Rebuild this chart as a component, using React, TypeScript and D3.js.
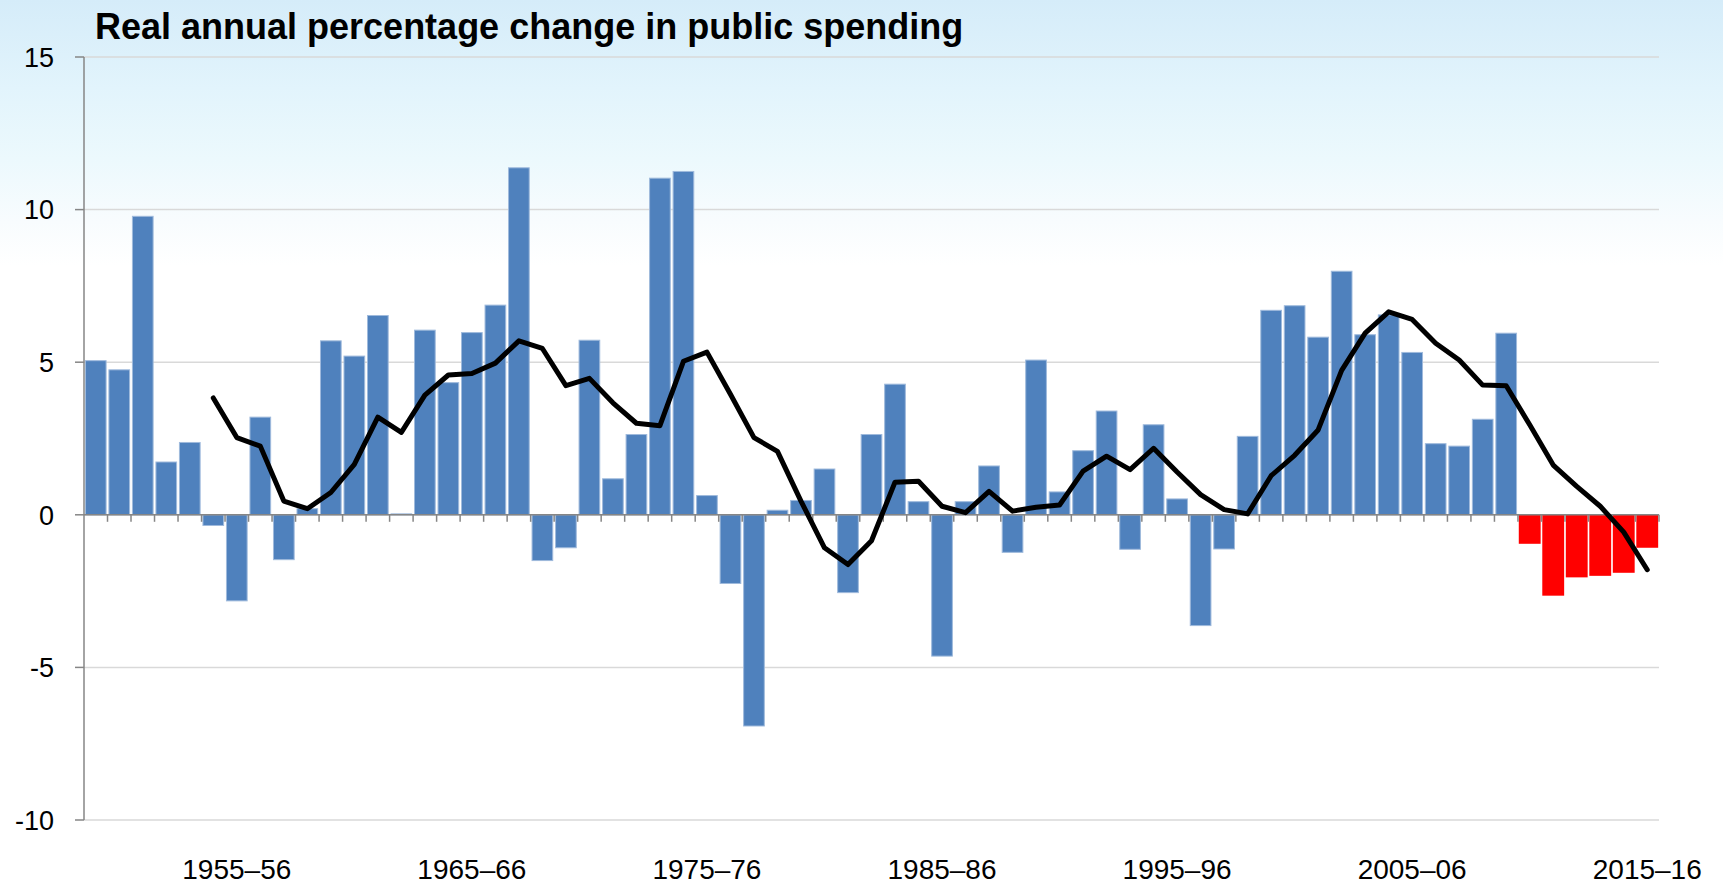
import * as d3 from 'd3';

const categories = [
  '1949–50', '1950–51', '1951–52', '1952–53', '1953–54', '1954–55', '1955–56', '1956–57', '1957–58', '1958–59',
  '1959–60', '1960–61', '1961–62', '1962–63', '1963–64', '1964–65', '1965–66', '1966–67', '1967–68', '1968–69',
  '1969–70', '1970–71', '1971–72', '1972–73', '1973–74', '1974–75', '1975–76', '1976–77', '1977–78', '1978–79',
  '1979–80', '1980–81', '1981–82', '1982–83', '1983–84', '1984–85', '1985–86', '1986–87', '1987–88', '1988–89',
  '1989–90', '1990–91', '1991–92', '1992–93', '1993–94', '1994–95', '1995–96', '1996–97', '1997–98', '1998–99',
  '1999–00', '2000–01', '2001–02', '2002–03', '2003–04', '2004–05', '2005–06', '2006–07', '2007–08', '2008–09',
  '2009–10', '2010–11', '2011–12', '2012–13', '2013–14', '2014–15', '2015–16'
];

// real annual % change, one per year
const annualChange = [
  5.05, 4.75, 9.78, 1.73, 2.37, -0.35, -2.82, 3.2, -1.47, 0.2,
  5.7, 5.2, 6.53, 0.03, 6.05, 4.33, 5.97, 6.87, 11.37, -1.5,
  -1.08, 5.72, 1.18, 2.63, 11.03, 11.25, 0.63, -2.25, -6.92, 0.15,
  0.47, 1.5, -2.55, 2.63, 4.28, 0.43, -4.63, 0.43, 1.6, -1.23,
  5.07, 0.75, 2.1, 3.4, -1.13, 2.95, 0.52, -3.63, -1.12, 2.57,
  6.7, 6.85, 5.82, 7.98, 5.9, 6.55, 5.32, 2.33, 2.25, 3.13,
  5.95, -0.95, -2.65, -2.05, -2.0, -1.9, -1.08
];

// moving average line (starts 1954–55)
const movingAverage: (number | null)[] = [
  null, null, null, null, null, 3.83, 2.53, 2.25, 0.45, 0.2,
  0.73, 1.65, 3.2, 2.7, 3.92, 4.58, 4.63, 4.97, 5.7, 5.45,
  4.23, 4.47, 3.67, 3.0, 2.92, 5.03, 5.33, 3.95, 2.53, 2.08,
  0.45, -1.08, -1.63, -0.85, 1.07, 1.1, 0.28, 0.07, 0.77, 0.12,
  0.25, 0.32, 1.43, 1.92, 1.48, 2.18, 1.4, 0.66, 0.17, 0.03,
  1.28, 1.95, 2.78, 4.73, 5.95, 6.65, 6.4, 5.62, 5.07, 4.25,
  4.23, 2.95, 1.63, 0.93, 0.28, -0.57, -1.8
];

const forecastFrom = '2010–11';
const xTickLabels = ['1955–56', '1965–66', '1975–76', '1985–86', '1995–96', '2005–06', '2015–16'];
const yTicks = [15, 10, 5, 0, -5, -10];

const W = 1723;
const H = 886;
const left = 84, right = 1659, top = 57, bottom = 820;

export default function App() {
  const x = d3.scaleBand<string>().domain(categories).range([left, right]);
  const y = d3.scaleLinear().domain([-10, 15]).range([bottom, top]);
  const bw = x.bandwidth();
  const firstForecast = categories.indexOf(forecastFrom);

  const line = d3.line<number | null>()
    .defined(d => d !== null)
    .x((_, i) => (x(categories[i]) as number) + bw / 2)
    .y(d => y(d as number));

  const fontFam = '"Liberation Sans", Arial, sans-serif';

  return (
    <svg width={W} height={H} style={{ position: 'absolute', left: 0, top: 0, display: 'block' }}>
      <defs>
        <linearGradient id="bg" x1="0" y1="0" x2="0" y2="1">
          <stop offset="0" stopColor="#d5ecf9" />
          <stop offset="0.1" stopColor="#e2f4fc" />
          <stop offset="0.18" stopColor="#ecf9fd" />
          <stop offset="0.25" stopColor="#f8fcfe" />
          <stop offset="0.3" stopColor="#ffffff" />
        </linearGradient>
      </defs>
      <rect x={0} y={0} width={W} height={H} fill="url(#bg)" />

      {/* gridlines */}
      {yTicks.map(t => (
        <line key={t} x1={left} x2={right} y1={y(t)} y2={y(t)} stroke="#d9d9d9" strokeWidth={1.5} />
      ))}

      {/* bars */}
      {annualChange.map((v, i) => {
        const c = categories[i];
        const forecast = i >= firstForecast;
        const w = forecast ? bw * 0.93 : bw * 0.88;
        const x0 = (x(c) as number) + (bw - w) / 2;
        return (
          <rect
            key={c}
            x={x0}
            y={y(Math.max(0, v))}
            width={w}
            height={Math.abs(y(v) - y(0))}
            fill={forecast ? '#ff0000' : '#4f81bd'}
            stroke={forecast ? 'none' : '#9fbadc'}
            strokeWidth={1}
          />
        );
      })}

      {/* y axis */}
      <line x1={left} x2={left} y1={top} y2={bottom} stroke="#868686" strokeWidth={1.5} />
      {yTicks.map(t => (
        <g key={t}>
          <line x1={left - 9} x2={left} y1={y(t)} y2={y(t)} stroke="#868686" strokeWidth={1.5} />
          <text x={54} y={y(t)} dy="0.36em" textAnchor="end" fontFamily={fontFam} fontSize={27} fill="#000">
            {t}
          </text>
        </g>
      ))}

      {/* x axis at zero */}
      <line x1={left} x2={right} y1={y(0)} y2={y(0)} stroke="#868686" strokeWidth={1.5} />
      {categories.map(c => (
        <line key={c} x1={(x(c) as number) + bw} x2={(x(c) as number) + bw} y1={y(0)} y2={y(0) + 7} stroke="#868686" strokeWidth={1.5} />
      ))}

      {/* moving average */}
      <path d={line(movingAverage) || ''} fill="none" stroke="#000" strokeWidth={5} strokeLinejoin="round" strokeLinecap="round" />

      {/* x tick labels */}
      {xTickLabels.map(l => (
        <text key={l} x={(x(l) as number) + bw / 2} y={879} textAnchor="middle" fontFamily={fontFam} fontSize={28} fill="#000">
          {l}
        </text>
      ))}

      <text x={95} y={39} fontFamily={fontFam} fontWeight="bold" fontSize={36} fill="#000">
        Real annual percentage change in public spending
      </text>
    </svg>
  );
}
